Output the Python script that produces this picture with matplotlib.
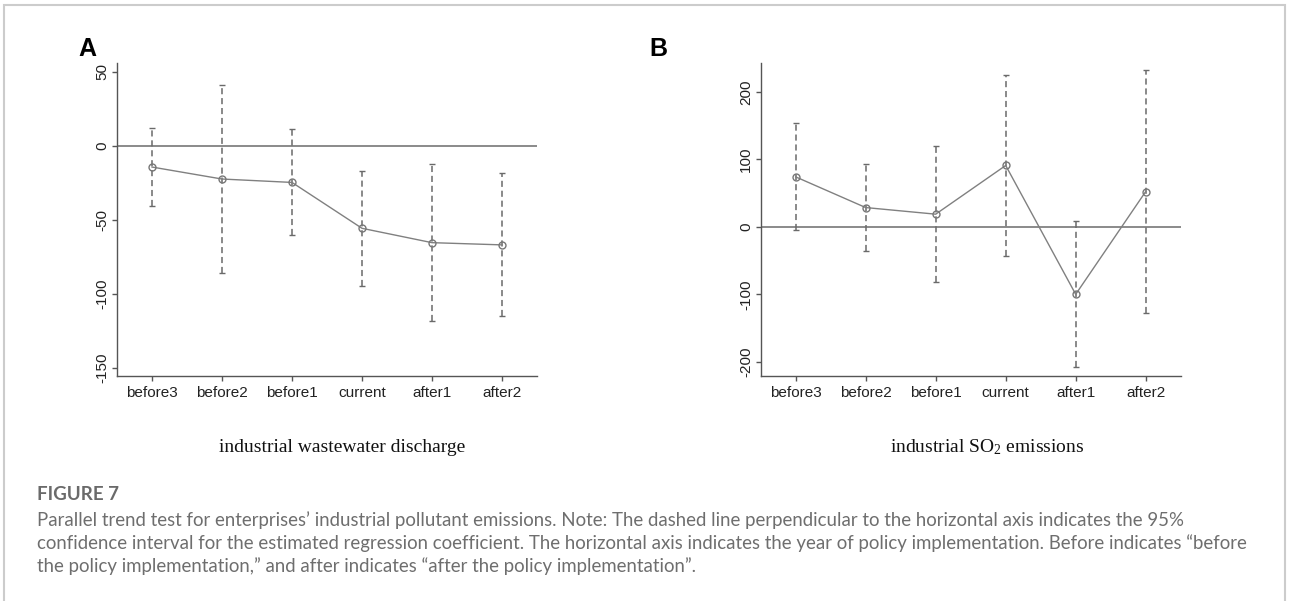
import matplotlib
matplotlib.use("Agg")
import matplotlib.pyplot as plt
from matplotlib.patches import Rectangle
import numpy as np

# ---- data ----
categories = ["before3", "before2", "before1", "current", "after1", "after2"]

wastewater_coef = [-14.4, -22.5, -24.8, -55.8, -65.5, -67.0]
wastewater_upper = [12.0, 41.0, 11.0, -17.0, -12.6, -18.7]
wastewater_lower = [-40.5, -86.2, -60.0, -94.6, -118.2, -115.0]
wastewater_yticks = [50, 0, -50, -100, -150]

so2_coef = [74.0, 28.6, 18.8, 90.9, -99.8, 52.3]
so2_upper = [153.6, 93.3, 119.0, 225.0, 8.9, 232.6]
so2_lower = [-5.0, -35.6, -81.5, -43.5, -207.0, -127.0]
so2_yticks = [200, 100, 0, -100, -200]

panel_letters = ["A", "B"]
subtitles = ["industrial wastewater discharge", r"industrial SO$_\mathrm{2}$ emissions"]
fig_title = "FIGURE 7"
caption_lines = [
    "Parallel trend test for enterprises\u2019 industrial pollutant emissions. Note: The dashed line perpendicular to the horizontal axis indicates the 95%",
    "confidence interval for the estimated regression coefficient. The horizontal axis indicates the year of policy implementation. Before indicates \u201cbefore",
    "the policy implementation,\u201d and after indicates \u201cafter the policy implementation\u201d.",
]

# ---- style ----
plt.rcParams['mathtext.fontset'] = 'custom'
plt.rcParams['mathtext.rm'] = 'Liberation Serif'
plt.rcParams['mathtext.it'] = 'Liberation Serif:italic'

W, H = 1290, 601
fig = plt.figure(figsize=(W / 100, H / 100), dpi=100)
fig.patch.set_facecolor("white")

def px_axes(l, t, r, b):
    return fig.add_axes([l / W, 1 - b / H, (r - l) / W, (b - t) / H])

axA = px_axes(117, 63, 537, 376)
axB = px_axes(760.7, 62.7, 1180.7, 376)

x = np.arange(1, len(categories) + 1)
spine_c = "#555555"

def draw(ax, coef, lo, up, yticks, ylim):
    coef = np.array(coef); lo = np.array(lo); up = np.array(up)
    ax.axhline(0, color="#777777", lw=1.2, zorder=1)
    eb = ax.errorbar(x, coef, yerr=[coef - lo, up - coef], fmt="none",
                     ecolor="#6a6a6a", elinewidth=1.1, capsize=2.2,
                     capthick=1.0, zorder=2)
    eb[2][0].set_linestyle((0, (4.0, 2.5)))
    ax.plot(x, coef, color="#808080", lw=1.0, marker="o", ms=5.0,
            mfc="none", mec="#777777", mew=1.0, zorder=3)
    ax.set_xlim(0.5, 6.5)
    ax.set_ylim(*ylim)
    ax.set_xticks(x)
    ax.set_xticklabels(categories, fontsize=11, family="Liberation Sans", color="#222222")
    ax.set_yticks(yticks)
    ax.set_yticklabels([str(v) for v in yticks], fontsize=11, family="Liberation Sans",
                       color="#222222", rotation=90, va="center")
    for s in ["top", "right"]:
        ax.spines[s].set_visible(False)
    for s in ["left", "bottom"]:
        ax.spines[s].set_color(spine_c)
        ax.spines[s].set_linewidth(1.0)
    ax.tick_params(axis="both", direction="out", length=3.5, width=1.0, color=spine_c)
    ax.tick_params(axis="y", pad=2)
    ax.tick_params(axis="x", pad=4)
    ax.set_facecolor("none")

draw(axA, wastewater_coef, wastewater_lower, wastewater_upper, wastewater_yticks, (-155.6, 55.9))
draw(axB, so2_coef, so2_lower, so2_upper, so2_yticks, (-220.7, 243))

def ftext(xp, yp, s, **kw):
    return fig.text(xp / W, 1 - yp / H, s, **kw)

ftext(87, 49, panel_letters[0], fontsize=18, fontweight="bold", family="Liberation Sans",
      ha="center", va="center", color="black")
ftext(658, 49, panel_letters[1], fontsize=18, fontweight="bold", family="Liberation Sans",
      ha="center", va="center", color="black")

ftext(342, 447, subtitles[0], fontsize=14, family="Liberation Serif", ha="center",
      va="center", color="#111111")
ftext(987, 447, subtitles[1], fontsize=14, family="Liberation Serif", ha="center",
      va="center", color="#111111")

# frame
fig.patches.append(Rectangle((4 / W, -0.05), (1285 - 4) / W, 1 - 5 / H + 0.05,
                             transform=fig.transFigure, fill=False,
                             edgecolor="#cccccc", lw=1.5))

cap_font = ["Lato", "DejaVu Sans"]
ftext(37, 495, fig_title, fontsize=13.5, family=cap_font, fontweight="bold",
      ha="left", va="center", color="#6a6a6a")
cap_texts = []
for i, (line, yp) in enumerate(zip(caption_lines, [520, 543, 566])):
    cap_texts.append(ftext(37, yp, line, fontsize=12.5, family=cap_font,
                           ha="left", va="center", color="#6e6e6e"))

# fit caption width: line 2 spans ~37..1257 px
fig.canvas.draw()
r = fig.canvas.get_renderer()
w2 = cap_texts[1].get_window_extent(r).width
scale = (1257 - 37) / w2
for t in cap_texts:
    t.set_fontsize(12.5 * scale)

fig.savefig("out.png", dpi=100, facecolor="white")
